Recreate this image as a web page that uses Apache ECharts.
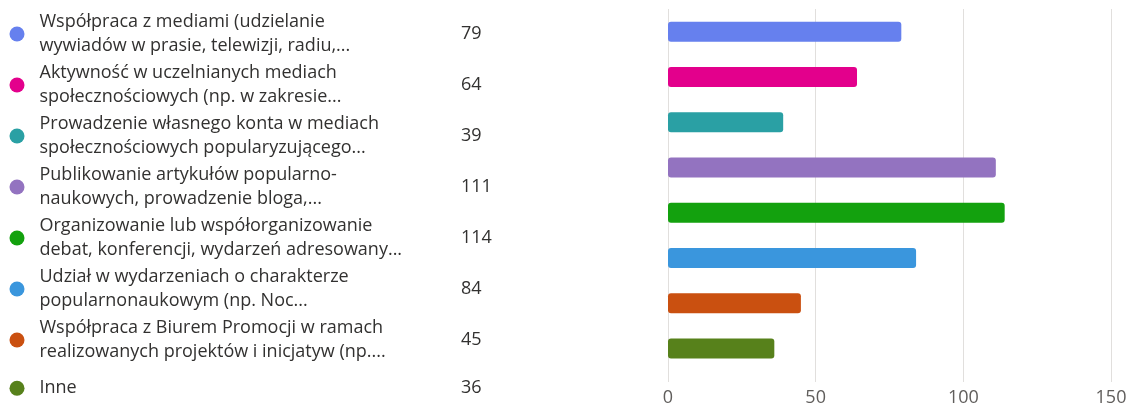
<!DOCTYPE html>
<html>
<head>
<meta charset="utf-8">
<script src="https://cdn.jsdelivr.net/npm/echarts@6/dist/echarts.min.js"></script>
<style>html,body{margin:0;padding:0;background:#fff;}#c{width:1131px;height:403px;}</style>
</head>
<body>
<div id="c"></div>
<script>
// ---- data ----
var categories = [
  "Współpraca z mediami (udzielanie\nwywiadów w prasie, telewizji, radiu,...",
  "Aktywność w uczelnianych mediach\nspołecznościowych (np. w zakresie...",
  "Prowadzenie własnego konta w mediach\nspołecznościowych popularyzującego...",
  "Publikowanie artykułów popularno-\nnaukowych, prowadzenie bloga,...",
  "Organizowanie lub współorganizowanie\ndebat, konferencji, wydarzeń adresowany...",
  "Udział w wydarzeniach o charakterze\npopularnonaukowym (np. Noc...",
  "Współpraca z Biurem Promocji w ramach\nrealizowanych projektów i inicjatyw (np....",
  "Inne"
];
var values = [79, 64, 39, 111, 114, 84, 45, 36];
var xTicks = [0, 50, 100, 150];
var palette = ["#6680ee", "#e3008c", "#2aa0a4", "#9373c0", "#13a10e", "#3a96dd", "#ca5010", "#57811b"];

var FONT = "'Open Sans', 'Noto Sans', sans-serif";
var TEXT = '#323130';
var valueOf = {};
categories.forEach(function (c, i) { valueOf[c] = values[i]; });

var series = categories.map(function (c, i) {
  return {
    name: c,
    type: 'bar',
    stack: 'all',
    barWidth: 20,
    itemStyle: { color: palette[i], borderRadius: 3 },
    data: categories.map(function (cc, j) { return j === i ? values[i] : '-'; })
  };
});

var multi = categories.filter(function (c) { return c.indexOf('\n') >= 0; });
var single = categories.filter(function (c) { return c.indexOf('\n') < 0; });

function nameLegend(data, top) {
  return {
    orient: 'vertical', left: 9.5, top: top, height: 600, padding: 0,
    itemGap: 2, itemWidth: 15, itemHeight: 15, icon: 'circle',
    selectedMode: false, data: data,
    textStyle: { fontFamily: FONT, fontSize: 18, color: TEXT, lineHeight: 24.5, padding: [0, 0, 0, 10] }
  };
}
function valueLegend(data, top, lh) {
  return {
    orient: 'vertical', left: 441, top: top, height: 600, padding: 0,
    itemGap: 2, itemWidth: 15, itemHeight: 15, icon: 'circle',
    itemStyle: { opacity: 0 },
    selectedMode: false, data: data,
    formatter: function (name) { return String(valueOf[name]); },
    textStyle: { fontFamily: FONT, fontSize: 18, color: TEXT, lineHeight: lh }
  };
}

var chart = echarts.init(document.getElementById('c'), null, { renderer: 'canvas' });
chart.setOption({
  animation: false,
  backgroundColor: '#ffffff',
  grid: { left: 668, right: 20, top: 9, bottom: 32, containLabel: false, outerBoundsMode: 'none' },
  legend: [
    nameLegend(multi, 9.5),
    nameLegend(single, 376),
    valueLegend(multi, 9.5, 49),
    valueLegend(single, 376, 24.5)
  ],
  xAxis: {
    type: 'value',
    min: xTicks[0], max: xTicks[xTicks.length - 1], interval: xTicks[1] - xTicks[0],
    axisLine: { show: false },
    axisTick: { show: true, length: 11, lineStyle: { color: '#e1dfdd', width: 1 } },
    splitLine: { show: true, lineStyle: { color: '#e1dfdd', width: 1 } },
    axisLabel: { color: '#605e5c', fontFamily: FONT, fontSize: 18, margin: 18 }
  },
  yAxis: {
    type: 'category',
    inverse: true,
    data: categories,
    axisLine: { show: false },
    axisTick: { show: false },
    axisLabel: { show: false },
    splitLine: { show: false }
  },
  series: series
});
</script>
</body>
</html>
